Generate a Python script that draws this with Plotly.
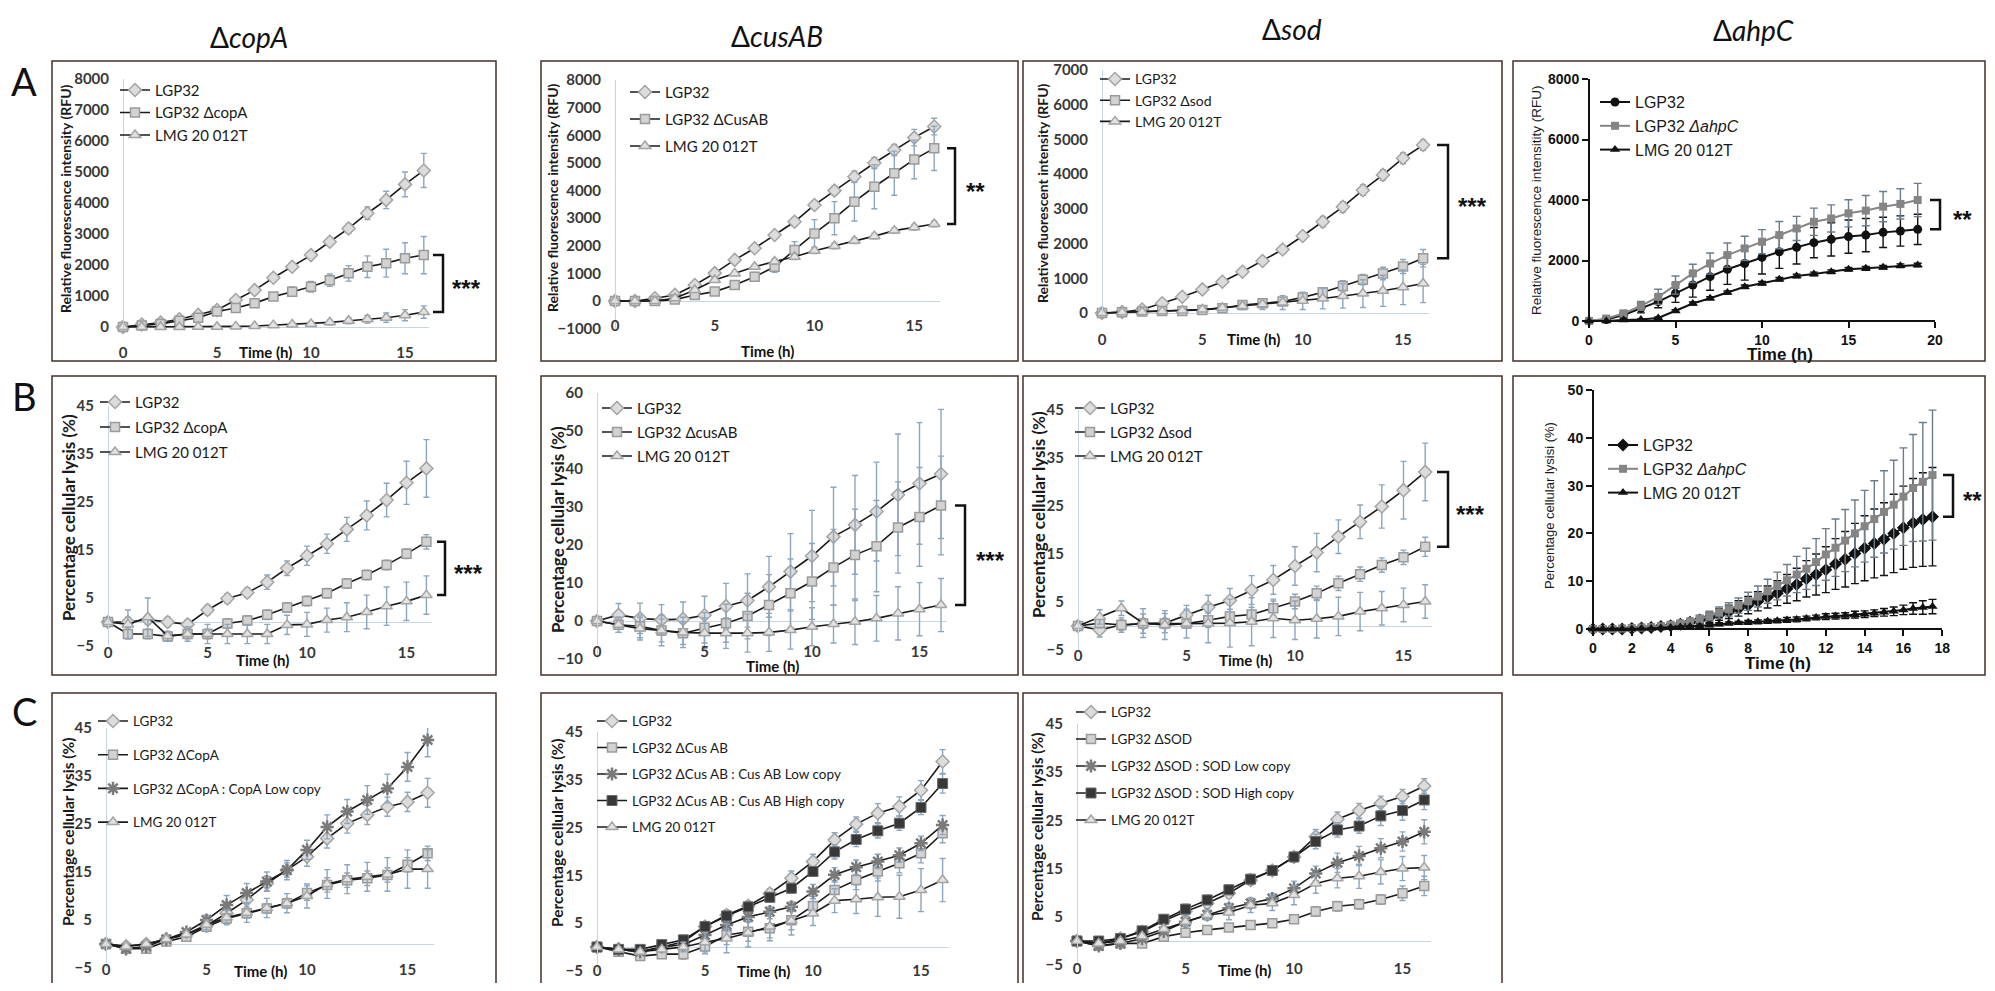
import plotly.graph_objects as go

# page is 1995x991; the html body keeps an 8px margin, so the figure is sized to fit inside it
OFF = 8
FW, FH = 1995 - 2 * OFF, 991 - 2 * OFF

# ------------------------------------------------------------------ data
T16 = [0, 1, 2, 3, 4, 5, 6, 7, 8, 9, 10, 11, 12, 13, 14, 15, 16]
T19 = [0, 1, 2, 3, 4, 5, 6, 7, 8, 9, 10, 11, 12, 13, 14, 15, 16, 17, 18, 19]
T_B4 = [0, 0.5, 1, 1.5, 2, 2.5, 3, 3.5, 4, 4.5, 5, 5.5, 6, 6.5, 7, 7.5, 8, 8.5,
        9, 9.5, 10, 10.5, 11, 11.5, 12, 12.5, 13, 13.5, 14, 14.5, 15, 15.5, 16, 16.5, 17, 17.5]

# A: relative fluorescence (RFU)
A1_lgp = [0, 80, 140, 250, 390, 550, 870, 1190, 1590, 1945, 2320, 2750, 3180, 3670, 4100, 4600, 5050]
A1_lgp_e = [30, 40, 50, 60, 70, 80, 100, 100, 110, 120, 120, 130, 150, 200, 280, 400, 550]
A1_mut = [0, 50, 100, 200, 300, 500, 610, 770, 980, 1140, 1300, 1510, 1730, 1945, 2060, 2220, 2320]
A1_mut_e = [20, 30, 40, 50, 60, 80, 90, 100, 120, 150, 170, 200, 250, 350, 450, 500, 600]
A1_lmg = [0, 0, 0, 0, 5, 10, 20, 30, 60, 80, 100, 150, 200, 250, 300, 380, 480]
A1_lmg_e = [10, 10, 10, 10, 10, 20, 30, 40, 50, 60, 70, 80, 100, 120, 150, 180, 200]

A2_lgp = [0, 0, 100, 220, 580, 1010, 1490, 1910, 2390, 2870, 3480, 4000, 4500, 5000, 5470, 5920, 6320]
A2_lgp_e = [50, 50, 50, 60, 80, 100, 100, 120, 120, 150, 150, 150, 200, 200, 200, 300, 300]
A2_mut = [0, 0, 0, 50, 220, 340, 580, 880, 1240, 1850, 2450, 3000, 3600, 4140, 4630, 5130, 5530]
A2_mut_e = [30, 30, 40, 50, 60, 80, 100, 150, 200, 300, 500, 600, 700, 800, 800, 700, 800]
A2_lmg = [0, 0, 0, 100, 400, 760, 1000, 1240, 1430, 1600, 1820, 1990, 2180, 2350, 2550, 2670, 2790]
A2_lmg_e = [30, 30, 40, 50, 60, 80, 80, 80, 100, 100, 100, 100, 100, 100, 100, 100, 100]

A3_lgp = [0, 30, 100, 280, 470, 680, 900, 1190, 1500, 1830, 2220, 2630, 3060, 3540, 3980, 4460, 4840]
A3_lgp_e = [20, 30, 40, 50, 60, 80, 80, 80, 100, 100, 120, 150, 150, 150, 150, 150, 150]
A3_mut = [0, 20, 40, 60, 60, 90, 140, 230, 280, 330, 450, 600, 780, 960, 1140, 1340, 1580]
A3_mut_e = [20, 20, 20, 30, 30, 40, 50, 60, 70, 80, 100, 120, 150, 150, 180, 200, 250]
A3_lmg = [0, 20, 30, 50, 70, 100, 150, 200, 250, 300, 350, 420, 490, 560, 640, 740, 850]
A3_lmg_e = [20, 20, 30, 30, 40, 50, 80, 100, 150, 200, 250, 300, 350, 400, 450, 500, 550]

A4_lgp = [0, 50, 200, 420, 640, 915, 1190, 1465, 1710, 1900, 2105, 2290, 2435, 2590, 2700, 2790, 2840, 2930, 2975, 3030]
A4_lgp_e = [20, 50, 100, 150, 200, 300, 400, 450, 500, 550, 550, 550, 550, 500, 550, 550, 550, 500, 500, 500]
A4_mut = [0, 80, 250, 500, 800, 1190, 1575, 1900, 2180, 2400, 2620, 2840, 3060, 3280, 3390, 3560, 3650, 3780, 3870, 4000]
A4_mut_e = [20, 50, 100, 150, 250, 300, 300, 350, 400, 400, 400, 450, 400, 450, 450, 450, 500, 500, 500, 550]
A4_lmg = [0, 0, 30, 50, 100, 330, 580, 750, 940, 1130, 1245, 1380, 1490, 1555, 1630, 1710, 1740, 1775, 1830, 1850]
A4_lmg_e = [10, 10, 20, 20, 30, 40, 50, 50, 50, 60, 60, 60, 60, 60, 60, 60, 60, 60, 60, 60]

# B: percentage cellular lysis (%)
B1_lgp = [0, 0, 0.5, 0, -0.5, 2.5, 4.9, 6.1, 8.3, 11.2, 13.8, 16.3, 19.3, 22.2, 25.4, 29, 32]
B1_lgp_e = [0.5, 1, 1, 1, 1, 1, 1, 1, 1.5, 1.5, 2, 2, 2.5, 3, 3.5, 4.5, 6]
B1_mut = [0, -2.5, -2.5, -3, -2.5, -2.5, -0.3, 0.3, 1.5, 3, 4.4, 6, 8, 9.8, 11.9, 14.2, 16.7]
B1_mut_e = [0.5, 1, 1, 1, 1, 1, 1, 1, 1, 1, 1, 1, 1, 1, 1, 1, 1.5]
B1_lmg = [0, -0.5, 1, -2.9, -2.5, -2.5, -2.5, -2.5, -2.5, -0.6, -0.5, 0.4, 1, 2.1, 3.3, 4.3, 5.6]
B1_lmg_e = [0.5, 3, 4, 1, 1.5, 2, 2, 2, 2, 2, 2.5, 2.5, 3, 3.5, 4, 4, 4]

B2_lgp = [0, 1.6, 0.7, 0.3, 0.5, 1.5, 3.9, 5.4, 9, 13, 17.1, 22.2, 25.3, 28.8, 33.2, 36.2, 38.7]
B2_lgp_e = [0.5, 3, 4, 4, 4.5, 5, 6, 7, 8, 10, 12, 13, 13, 13, 16, 16, 17]
B2_mut = [0, -1, -1.4, -2.5, -3.2, -1.8, -0.6, 1.3, 4.2, 7.3, 10.4, 14.1, 17.4, 19.7, 24.6, 27.4, 30.4]
B2_mut_e = [0.5, 2, 3, 3, 3, 4, 5, 6, 8, 9, 10, 10, 12, 12, 12, 13, 13]
B2_lmg = [0, -1, -2, -2.5, -3, -3.2, -3.2, -3.2, -3, -2.4, -1.5, -0.8, -0.2, 0.7, 2, 3.1, 4.2]
B2_lmg_e = [0.5, 2, 3, 4, 4, 4, 4, 5, 5, 5, 5, 5, 6, 6, 7, 7, 7]

B3_lgp = [0, -0.8, 0.2, 0.5, 0.6, 2.3, 3.9, 5.3, 7.5, 9.6, 12.5, 15.3, 18.6, 21.7, 24.9, 28.3, 32.1]
B3_lgp_e = [0.5, 1.5, 1.5, 2, 2, 2, 2.5, 2.5, 3, 3, 4, 4, 3.5, 3.5, 4.5, 6, 6]
B3_mut = [0, 0.6, 0.2, 0.5, 0.5, 0.5, 1.2, 2, 2.4, 3.7, 5.1, 6.8, 8.9, 10.8, 12.7, 14.3, 16.5]
B3_mut_e = [0.5, 1, 1, 1, 1, 1, 1.5, 1.5, 1.5, 1.5, 1.5, 1.5, 1.5, 1.5, 1.5, 1.5, 2]
B3_lmg = [0, 1.9, 3.7, 0.6, 0.2, 0.5, 0.5, 0.6, 0.9, 1.6, 1.2, 1.5, 2, 3, 3.7, 4.4, 5.1]
B3_lmg_e = [0.5, 1.5, 1.5, 3, 3, 3, 4, 5, 5, 4, 4, 4, 4, 4, 3.5, 3.5, 3.5]

B4_lgp = [0, 0, 0, 0, 0.1, 0.2, 0.3, 0.5, 0.7, 1.0, 1.4, 1.9, 2.4, 3.0, 3.6, 4.3, 5.0, 5.8,
          6.7, 7.5, 8.4, 9.3, 10.5, 11.4, 12.4, 13.6, 14.6, 15.8, 16.9, 17.9, 18.8, 20.0, 21.2, 22.2, 22.9, 23.5]
B4_lgp_e = [0, 0, 0, 0, 0.1, 0.1, 0.2, 0.3, 0.4, 0.5, 0.6, 0.8, 1.0, 1.2, 1.4, 1.6, 1.8, 2.0,
            2.3, 2.6, 3.0, 3.4, 3.8, 4.3, 4.8, 5.3, 5.8, 6.3, 6.8, 7.2, 7.6, 8.2, 8.7, 9.3, 9.8, 10.3]
B4_mut = [0, 0, 0, 0.1, 0.2, 0.3, 0.4, 0.6, 0.9, 1.2, 1.6, 2.1, 2.7, 3.4, 4.1, 4.9, 5.8, 6.8,
          7.9, 9.0, 10.2, 11.4, 12.6, 14.0, 15.6, 17.0, 18.5, 20.0, 21.5, 23.0, 24.5, 26.0, 27.7, 29.5, 30.8, 32.2]
B4_mut_e = [0, 0, 0, 0, 0.1, 0.1, 0.2, 0.3, 0.4, 0.5, 0.6, 0.8, 1.0, 1.2, 1.4, 1.6, 1.9, 2.2,
            2.5, 2.9, 3.3, 3.8, 4.3, 4.9, 5.4, 6.0, 6.5, 7.0, 7.5, 8.0, 8.6, 9.3, 10.2, 11.2, 12.4, 13.6]
B4_lmg = [0, 0, 0, 0, 0, 0.1, 0.1, 0.2, 0.3, 0.4, 0.5, 0.6, 0.8, 1.0, 1.2, 1.3, 1.4, 1.5,
          1.6, 1.7, 1.9, 2.0, 2.2, 2.4, 2.6, 2.7, 2.8, 3.0, 3.1, 3.3, 3.5, 3.7, 4.0, 4.3, 4.5, 4.7]
B4_lmg_e = [0, 0, 0, 0, 0, 0, 0.1, 0.1, 0.1, 0.2, 0.2, 0.2, 0.3, 0.3, 0.3, 0.3, 0.4, 0.4,
            0.4, 0.4, 0.5, 0.5, 0.5, 0.5, 0.6, 0.6, 0.6, 0.7, 0.7, 0.7, 0.8, 0.9, 1.0, 1.2, 1.4, 1.5]

# C: complementation, percentage cellular lysis (%)
C1_lgp = [0, -0.5, 0, 1, 2, 3.8, 6.4, 9.2, 12.6, 15.4, 18.2, 22, 25.1, 26.9, 28.6, 29.6, 31.5]
C1_lgp_e = [0.5, 0.5, 0.5, 0.5, 0.5, 1, 1, 1.5, 1.5, 1.5, 2, 2, 2, 2, 2, 2, 3]
C1_mut = [0, -1, -1, 0.5, 1.5, 3.6, 5.3, 6.4, 7.4, 8.5, 10.6, 12.3, 13.3, 13.7, 14.4, 16.5, 18.9]
C1_mut_e = [0.5, 0.5, 0.5, 0.5, 0.5, 1, 1, 1, 1, 1, 1.5, 1.5, 1.5, 1.5, 1.5, 1.5, 1.5]
C1_low = [0, -1, -0.5, 1, 2.5, 5, 8.1, 10.6, 13, 15.4, 19.6, 24.4, 27.6, 30, 32.4, 36.9, 42.5]
C1_low_e = [0.5, 0.5, 0.5, 0.5, 0.5, 1, 2, 2, 2, 2, 2, 2.5, 2.5, 3, 3, 3, 3.5]
C1_lmg = [0, -0.5, 0, 1, 2, 4, 5.5, 6.5, 7.5, 8.5, 10, 12.5, 13.5, 14, 14.5, 15.6, 15.6]
C1_lmg_e = [0.5, 0.5, 0.5, 0.5, 0.5, 1, 1.5, 2, 2, 2, 2.5, 3, 3, 3, 3.5, 4, 4]

C2_lgp = [0, -0.5, -1, 0, 1.1, 4.3, 6.7, 8.6, 11.2, 14.4, 17.9, 22.4, 25.7, 28, 29.4, 32.8, 38.8]
C2_lgp_e = [0.5, 0.5, 0.5, 0.5, 0.5, 1, 1, 1, 1, 1.5, 1.5, 1.5, 1.5, 2, 2, 2, 2.5]
C2_mut = [0, -1, -1.9, -1.5, -1.5, 0.1, 2.5, 3.2, 3.9, 5.6, 8.6, 11.9, 14, 15.8, 17.5, 19.6, 23.8]
C2_mut_e = [0.5, 0.5, 0.5, 0.5, 1, 1.5, 2, 2, 2, 2, 2, 2, 2, 2, 2, 2, 2]
C2_low = [0, -0.5, -1, 0, 0.5, 2.5, 4.6, 6.3, 7.4, 8.4, 11.6, 15.1, 16.7, 17.9, 19.2, 21.7, 25.5]
C2_low_e = [0.5, 0.5, 0.5, 0.5, 0.5, 1, 1, 1, 1, 1, 1.5, 1.5, 1.5, 1.5, 1.5, 1.5, 2]
C2_high = [0, -0.5, -0.5, 0.5, 1.5, 4.3, 6.5, 8.4, 10.4, 12.3, 15.8, 19.9, 22.5, 24.3, 25.9, 29.2, 34.2]
C2_high_e = [0.5, 0.5, 0.5, 0.5, 0.5, 1, 1, 1, 1, 1, 1, 1.5, 1.5, 1.5, 1.5, 1.5, 2]
C2_lmg = [0, -0.5, -1, -0.5, 0, 1, 1.8, 3, 4.3, 5.5, 7, 9.7, 10, 10.4, 10.5, 11.9, 14]
C2_lmg_e = [0.5, 0.5, 0.5, 0.5, 1, 2, 3, 3, 3, 3, 2.5, 2.5, 3, 4, 4.5, 4.5, 4.5]

C3_lgp = [0, -0.5, 0.5, 1.9, 4.2, 6.1, 7.8, 9.9, 12.6, 14.6, 17.4, 21.6, 25.2, 27, 28.5, 29.9, 32.1]
C3_lgp_e = [0.5, 0.5, 0.5, 0.5, 0.5, 1, 1, 1, 1, 1, 1, 1.5, 1.5, 1.5, 1.5, 1.5, 1.5]
C3_mut = [0, -1, -0.5, -0.5, 0.9, 1.7, 2.3, 2.8, 3.3, 3.7, 4.5, 6.1, 7.2, 7.6, 8.6, 9.9, 11.4]
C3_mut_e = [0.5, 0.5, 0.5, 0.5, 0.5, 0.5, 0.5, 0.5, 0.5, 0.5, 0.5, 1, 1, 1, 1, 1.5, 2]
C3_low = [0, -1, -0.5, 0.5, 2, 4, 5.4, 6.8, 7.8, 8.8, 10.9, 14, 16.2, 17.6, 19.2, 20.6, 22.6]
C3_low_e = [0.5, 0.5, 0.5, 0.5, 0.5, 1, 1, 1, 1, 1, 1.5, 1.5, 2, 2, 2, 2, 2.5]
C3_high = [0, 0, 0.5, 2.1, 4.5, 6.6, 8.5, 10.6, 12.8, 14.6, 17.4, 20.6, 23, 23.8, 25.9, 27, 29.2]
C3_high_e = [0.5, 0.5, 0.5, 0.5, 0.5, 1, 1, 1, 1, 1, 1, 1.5, 1.5, 1.5, 2, 2, 2]
C3_lmg = [0, -0.5, 0, 1, 2.5, 4, 5.4, 5.9, 7.4, 7.8, 9.5, 11.9, 13, 13.4, 14.3, 15, 15.2]
C3_lmg_e = [0.5, 0.5, 0.5, 0.5, 0.5, 1, 1, 1.5, 1.5, 1.5, 2, 2, 2, 2.5, 2.5, 2.5, 2.5]

# tick labels
TICK_A1 = [0, 1000, 2000, 3000, 4000, 5000, 6000, 7000, 8000]
TICK_A2 = [-1000, 0, 1000, 2000, 3000, 4000, 5000, 6000, 7000, 8000]
TICK_A3 = [0, 1000, 2000, 3000, 4000, 5000, 6000, 7000]
TICK_A4 = [0, 2000, 4000, 6000, 8000]
TICK_LYS = [-5, 5, 15, 25, 35, 45]
TICK_B2 = [-10, 0, 10, 20, 30, 40, 50, 60]
TICK_B4 = [0, 10, 20, 30, 40, 50]
TICK_X = [0, 5, 10, 15]
TICK_X20 = [0, 5, 10, 15, 20]
TICK_X18 = [0, 2, 4, 6, 8, 10, 12, 14, 16, 18]

COL_TITLES = ["Δ<i>copA</i>", "Δ<i>cusAB</i>", "Δ<i>sod</i>", "Δ<i>ahpC</i>"]
ROW_LETTERS = ["A", "B", "C"]

# ------------------------------------------------------------------ styles
XL_FONT = "Lato"
NARROW = "Liberation Sans Narrow, Lato"
GP_FONT = "Liberation Sans"
ERR_XL = "#8ca6bf"
MK = {
    "dia": dict(symbol="diamond", size=10, color="#dcdcdc", line=dict(color="#a4a4a4", width=1.5)),
    "sq": dict(symbol="square", size=9, color="#d2d2d2", line=dict(color="#9a9a9a", width=1.5)),
    "tri": dict(symbol="triangle-up", size=10, color="#e2e2e2", line=dict(color="#a4a4a4", width=1.5)),
    "ast": dict(symbol="asterisk-open", size=11, color="#7a7a7a", line=dict(color="#7a7a7a", width=2.5)),
    "blk": dict(symbol="square", size=10, color="#383838", line=dict(color="#6a6a6a", width=1)),
    "g_circ": dict(symbol="circle", size=9, color="#111111", line=dict(color="#111111", width=0)),
    "g_dia": dict(symbol="diamond", size=10, color="#111111", line=dict(color="#111111", width=0)),
    "g_sq": dict(symbol="square", size=8, color="#858585", line=dict(color="#858585", width=0)),
    "g_tri": dict(symbol="triangle-up", size=9, color="#111111", line=dict(color="#111111", width=0)),
}
LINE = {"xl": dict(color="#1a1a1a", width=1.6)}

# panel geometry (pixel anchors of the original figure)
PANELS = [
    dict(key="A1", kind="xl", x0=123, xu=18.8, xr=(-0.05, 16.3), y0=327, yu=0.031, yr=(-40, 8000),
         yt=TICK_A1, xt=TICK_X, xlab=352, time=(265, 352), yttl=(65, 199), ytitle="Relative fluorescence intensity (RFU)", ytfs=14,
         leg=(155, 91, 22, 15, XL_FONT), brk=("A1_mut", "A1_lmg", 433, 443, "***", 466)),
    dict(key="A2", kind="xl", x0=615, xu=19.95, xr=(-0.05, 16.3), y0=301, yu=0.0276, yr=(-1000, 8000),
         yt=TICK_A2, xt=TICK_X, xlab=325, time=(767, 351), yttl=(553, 198), ytitle="Relative fluorescence intensity (RFU)", ytfs=14,
         leg=(665, 93, 27, 15, XL_FONT), brk=("A2_mut", "A2_lmg", 947, 955, "**", 975)),
    dict(key="A3", kind="xl", x0=1102, xu=20.07, xr=(-0.05, 16.3), y0=313, yu=0.0347, yr=(-40, 7000),
         yt=TICK_A3, xt=TICK_X, xlab=339, time=(1253, 339), yttl=(1042, 193), ytitle="Relative fluorescent intensity (RFU)", ytfs=14,
         leg=(1135, 80, 20.5, 14, XL_FONT), brk=("A3_lgp", "A3_mut", 1437, 1448, "***", 1472)),
    dict(key="A4", kind="gp", x0=1589, xu=17.3, xr=(0, 20), y0=321, yu=0.03025, yr=(0, 8000),
         yt=TICK_A4, xt=TICK_X20, xlab=337, time=(1780, 354), yttl=(1536, 200), ytitle="Relative fluorescence intensitity (RFU)", ytfs=13.5,
         leg=(1635, 103, 23.5, 16, GP_FONT), brk=("A4_mut", "A4_lgp", 1930, 1940, "**", 1962)),
    dict(key="B1", kind="xl", x0=108, xu=19.9, xr=(-0.05, 16.3), y0=622, yu=4.8, yr=(-5, 45),
         yt=TICK_LYS, xt=TICK_X, xlab=652, time=(262, 660), yttl=(68, 518), ytitle="Percentage cellular lysis (%)", ytfs=17,
         leg=(135, 403, 25, 15, NARROW), brk=("B1_mut", "B1_lmg", 437, 445, "***", 468)),
    dict(key="B2", kind="xl", x0=597, xu=21.5, xr=(-0.05, 16.3), y0=621, yu=3.8, yr=(-10, 60),
         yt=TICK_B2, xt=TICK_X, xlab=651, time=(772, 666), yttl=(557, 530), ytitle="Percentage cellular lysis (%)", ytfs=17,
         leg=(637, 409, 24, 15, NARROW), brk=("B2_mut", "B2_lmg", 955, 965, "***", 990)),
    dict(key="B3", kind="xl", x0=1078, xu=21.7, xr=(-0.05, 16.3), y0=626, yu=4.8, yr=(-5, 45),
         yt=TICK_LYS, xt=TICK_X, xlab=655, time=(1245, 660), yttl=(1038, 515), ytitle="Percentage cellular lysis (%)", ytfs=17,
         leg=(1110, 409, 24, 15, NARROW), brk=("B3_lgp", "B3_mut", 1437, 1448, "***", 1470)),
    dict(key="B4", kind="gp", x0=1593, xu=19.4, xr=(0, 18), y0=629, yu=4.78, yr=(0, 50),
         yt=TICK_B4, xt=TICK_X18, xlab=645, time=(1778, 663), yttl=(1549, 506), ytitle="Percentage cellular lysisi (%)", ytfs=13,
         leg=(1643, 446, 20.5, 16, GP_FONT), brk=("B4_mut", "B4_lgp", 1943, 1953, "**", 1972)),
    dict(key="C1", kind="xl", x0=106, xu=20.1, xr=(-0.05, 16.3), y0=944, yu=4.8, yr=(-5, 45),
         yt=TICK_LYS, xt=TICK_X, xlab=969, time=(260, 971), yttl=(68, 832), ytitle="Percentage cellular lysis (%)", ytfs=15.5,
         leg=(133, 722, 33.7, 13.5, NARROW), brk=None),
    dict(key="C2", kind="xl", x0=597, xu=21.6, xr=(-0.05, 16.3), y0=947, yu=4.78, yr=(-5, 45),
         yt=TICK_LYS, xt=TICK_X, xlab=970, time=(763, 971), yttl=(557, 833), ytitle="Percentage cellular lysis (%)", ytfs=15.5,
         leg=(632, 722, 26.5, 13.5, NARROW), brk=None),
    dict(key="C3", kind="xl", x0=1077, xu=21.7, xr=(-0.05, 16.3), y0=941, yu=4.83, yr=(-5, 45),
         yt=TICK_LYS, xt=TICK_X, xlab=968, time=(1244, 970), yttl=(1037, 827), ytitle="Percentage cellular lysis (%)", ytfs=15.5,
         leg=(1111, 713, 27, 13.5, NARROW), brk=None),
]

SERIES = {
    "A1": [(T16, A1_lgp, A1_lgp_e, "dia", "LGP32"), (T16, A1_mut, A1_mut_e, "sq", "LGP32 ΔcopA"),
           (T16, A1_lmg, A1_lmg_e, "tri", "LMG 20 012T")],
    "A2": [(T16, A2_lgp, A2_lgp_e, "dia", "LGP32"), (T16, A2_mut, A2_mut_e, "sq", "LGP32 ΔCusAB"),
           (T16, A2_lmg, A2_lmg_e, "tri", "LMG 20 012T")],
    "A3": [(T16, A3_lgp, A3_lgp_e, "dia", "LGP32"), (T16, A3_mut, A3_mut_e, "sq", "LGP32 Δsod"),
           (T16, A3_lmg, A3_lmg_e, "tri", "LMG 20 012T")],
    "A4": [(T19, A4_lgp, A4_lgp_e, "g_circ", "LGP32"), (T19, A4_mut, A4_mut_e, "g_sq", "LGP32 <i>ΔahpC</i>"),
           (T19, A4_lmg, A4_lmg_e, "g_tri", "LMG 20 012T")],
    "B1": [(T16, B1_lgp, B1_lgp_e, "dia", "LGP32"), (T16, B1_mut, B1_mut_e, "sq", "LGP32 ΔcopA"),
           (T16, B1_lmg, B1_lmg_e, "tri", "LMG 20 012T")],
    "B2": [(T16, B2_lgp, B2_lgp_e, "dia", "LGP32"), (T16, B2_mut, B2_mut_e, "sq", "LGP32 ΔcusAB"),
           (T16, B2_lmg, B2_lmg_e, "tri", "LMG 20 012T")],
    "B3": [(T16, B3_lgp, B3_lgp_e, "dia", "LGP32"), (T16, B3_mut, B3_mut_e, "sq", "LGP32 Δsod"),
           (T16, B3_lmg, B3_lmg_e, "tri", "LMG 20 012T")],
    "B4": [(T_B4, B4_lgp, B4_lgp_e, "g_dia", "LGP32"), (T_B4, B4_mut, B4_mut_e, "g_sq", "LGP32 <i>ΔahpC</i>"),
           (T_B4, B4_lmg, B4_lmg_e, "g_tri", "LMG 20 012T")],
    "C1": [(T16, C1_lgp, C1_lgp_e, "dia", "LGP32"), (T16, C1_mut, C1_mut_e, "sq", "LGP32 ΔCopA"),
           (T16, C1_low, C1_low_e, "ast", "LGP32 ΔCopA : CopA Low copy"), (T16, C1_lmg, C1_lmg_e, "tri", "LMG 20 012T")],
    "C2": [(T16, C2_lgp, C2_lgp_e, "dia", "LGP32"), (T16, C2_mut, C2_mut_e, "sq", "LGP32 ΔCus AB"),
           (T16, C2_low, C2_low_e, "ast", "LGP32 ΔCus AB : Cus AB Low copy"),
           (T16, C2_high, C2_high_e, "blk", "LGP32 ΔCus AB : Cus AB High copy"), (T16, C2_lmg, C2_lmg_e, "tri", "LMG 20 012T")],
    "C3": [(T16, C3_lgp, C3_lgp_e, "dia", "LGP32"), (T16, C3_mut, C3_mut_e, "sq", "LGP32 ΔSOD"),
           (T16, C3_low, C3_low_e, "ast", "LGP32 ΔSOD : SOD Low copy"),
           (T16, C3_high, C3_high_e, "blk", "LGP32 ΔSOD : SOD High copy"), (T16, C3_lmg, C3_lmg_e, "tri", "LMG 20 012T")],
}
_G = dict(globals())
LAST = {k: v[-1] for k, v in _G.items() if k[:2] in ("A1", "A2", "A3", "A4", "B1", "B2", "B3", "B4") and isinstance(v, list)}

# panel frames (page px): rows (top, bottom), columns (left, right)
ROWS = [(61, 361), (376, 675), (693, 1010)]
COLS = [(52, 496), (541, 1018), (1023, 1502), (1513, 1985)]
FRAME = "#46302a"


def px(x):
    return (x - OFF) / FW


def py(y):
    return 1 - (y - OFF) / FH


fig = go.Figure()
layout = dict(width=FW, height=FH, margin=dict(l=0, r=0, t=0, b=0), paper_bgcolor="white",
              plot_bgcolor="rgba(0,0,0,0)", showlegend=True, template="none")
shapes, annos = [], []

for i, P in enumerate(PANELS, start=1):
    sfx = "" if i == 1 else str(i)
    xa, ya = "x" + sfx, "y" + sfx
    lg = "legend" + sfx
    xl = P["kind"] == "xl"
    xdom = [px(P["x0"] + P["xr"][0] * P["xu"]), px(P["x0"] + P["xr"][1] * P["xu"])]
    ydom = [py(P["y0"] - P["yr"][0] * P["yu"]), py(P["y0"] - P["yr"][1] * P["yu"])]
    if xl:
        tf = dict(family=XL_FONT, size=15, color="#383838", weight="bold")
        layout["xaxis" + sfx] = dict(domain=xdom, range=list(P["xr"]), anchor="free", position=max(0, py(P["xlab"] - 10)),
                                     tickvals=P["xt"], ticks="", showline=False, showgrid=False, zeroline=False,
                                     tickfont=tf, fixedrange=True)
        layout["yaxis" + sfx] = dict(domain=ydom, range=list(P["yr"]), anchor="free", position=px(P["x0"]),
                                     tickvals=P["yt"], ticks="", showline=True, linecolor="#c8d6e4", linewidth=1,
                                     showgrid=False, zeroline=True, zerolinecolor="#c8d6e4", zerolinewidth=1,
                                     tickfont=tf, ticklabelstandoff=11, fixedrange=True)
    else:
        tf = dict(family=GP_FONT, size=14, color="#111111", weight="bold")
        common = dict(ticks="outside", ticklen=6, tickwidth=2, tickcolor="#111111", showline=True,
                      linecolor="#111111", linewidth=2, showgrid=False, zeroline=False, tickfont=tf, fixedrange=True)
        layout["xaxis" + sfx] = dict(domain=xdom, range=list(P["xr"]), anchor="free", position=ydom[0],
                                     tickvals=P["xt"], **common)
        layout["yaxis" + sfx] = dict(domain=ydom, range=list(P["yr"]), anchor="free", position=xdom[0],
                                     tickvals=P["yt"], **common)

    # legend
    lx, ly, lsp, lfs, lfam = P["leg"]
    rowh = max(lfs * 1.3, 16) + 3
    layout[lg] = dict(x=px(lx - 40), y=py(ly - rowh / 2 - 6), xanchor="left", yanchor="top",
                      bgcolor="rgba(0,0,0,0)", borderwidth=0, itemwidth=30, traceorder="grouped",
                      tracegroupgap=max(0, lsp - rowh),
                      font=dict(family=lfam, size=lfs, color="#1a1a1a"))

    for j, (tx, ty, te, mk, name) in enumerate(SERIES[P["key"]]):
        m = MK[mk]
        if xl:
            ln = LINE["xl"]
            ec = ERR_XL
            ew = 3
        else:
            ln = dict(color=m["color"], width=2)
            ec = "#111111" if m["color"] == "#111111" else "#6d7c89"
            ew = 4
        fig.add_trace(go.Scatter(
            x=tx, y=ty, name=name, mode="lines+markers", xaxis=xa, yaxis=ya, legend=lg,
            legendgroup=f"{P['key']}_{j}", line=ln, marker=m, cliponaxis=False,
            error_y=dict(type="data", array=te, visible=True, color=ec, thickness=1.4, width=ew)))

    # axis titles
    annos.append(dict(text=P["ytitle"], x=px(P["yttl"][0]), y=py(P["yttl"][1]), xref="paper", yref="paper",
                      textangle=-90, showarrow=False, xanchor="center", yanchor="middle",
                      font=dict(family=XL_FONT if xl else GP_FONT, size=P["ytfs"],
                                color="#1a1a1a", weight="bold" if xl else "normal")))
    annos.append(dict(text="Time (h)", x=px(P["time"][0]), y=py(P["time"][1]), xref="paper", yref="paper",
                      showarrow=False, xanchor="center", yanchor="middle",
                      font=dict(family=XL_FONT if xl else GP_FONT, size=15 if xl else 17, color="#111111",
                                weight="bold")))

    # significance bracket (x in page px, y in data units)
    if P["brk"]:
        top_k, bot_k, bx0, bx1, stars, sx = P["brk"]
        vt, vb = LAST[top_k], LAST[bot_k]
        shapes.append(dict(type="path", xref="paper", yref=ya,
                           path=f"M {px(bx0)},{vt} L {px(bx1)},{vt} L {px(bx1)},{vb} L {px(bx0)},{vb}",
                           line=dict(color="#111111", width=2.5)))
        annos.append(dict(text=stars, x=px(sx), y=(vt + vb) / 2, xref="paper", yref=ya,
                          showarrow=False, xanchor="center", yanchor="middle", yshift=-5,
                          font=dict(family=GP_FONT, size=24, color="#111111", weight="bold")))

# frames
for r, (t, b) in enumerate(ROWS):
    for c, (l, rr) in enumerate(COLS):
        if r == 2 and c == 3:
            continue
        shapes.append(dict(type="rect", xref="paper", yref="paper", x0=px(l), x1=px(rr), y0=py(b), y1=py(t),
                           line=dict(color=FRAME, width=1.5), layer="below"))

# row letters and column titles
for letter, yy in zip(ROW_LETTERS, [81, 396, 711]):
    annos.append(dict(text=letter, x=px(24), y=py(yy), xref="paper", yref="paper", showarrow=False,
                      xanchor="center", yanchor="middle", font=dict(family=XL_FONT, size=38, color="#111111")))
for title, (xx, yy) in zip(COL_TITLES, [(249, 37), (777, 36), (1292, 29), (1753, 30)]):
    annos.append(dict(text=title, x=px(xx), y=py(yy), xref="paper", yref="paper", showarrow=False,
                      xanchor="center", yanchor="middle", font=dict(family=XL_FONT, size=28, color="#111111")))

layout["shapes"] = shapes
layout["annotations"] = annos
fig.update_layout(**layout)
fig.write_html("out.html")
